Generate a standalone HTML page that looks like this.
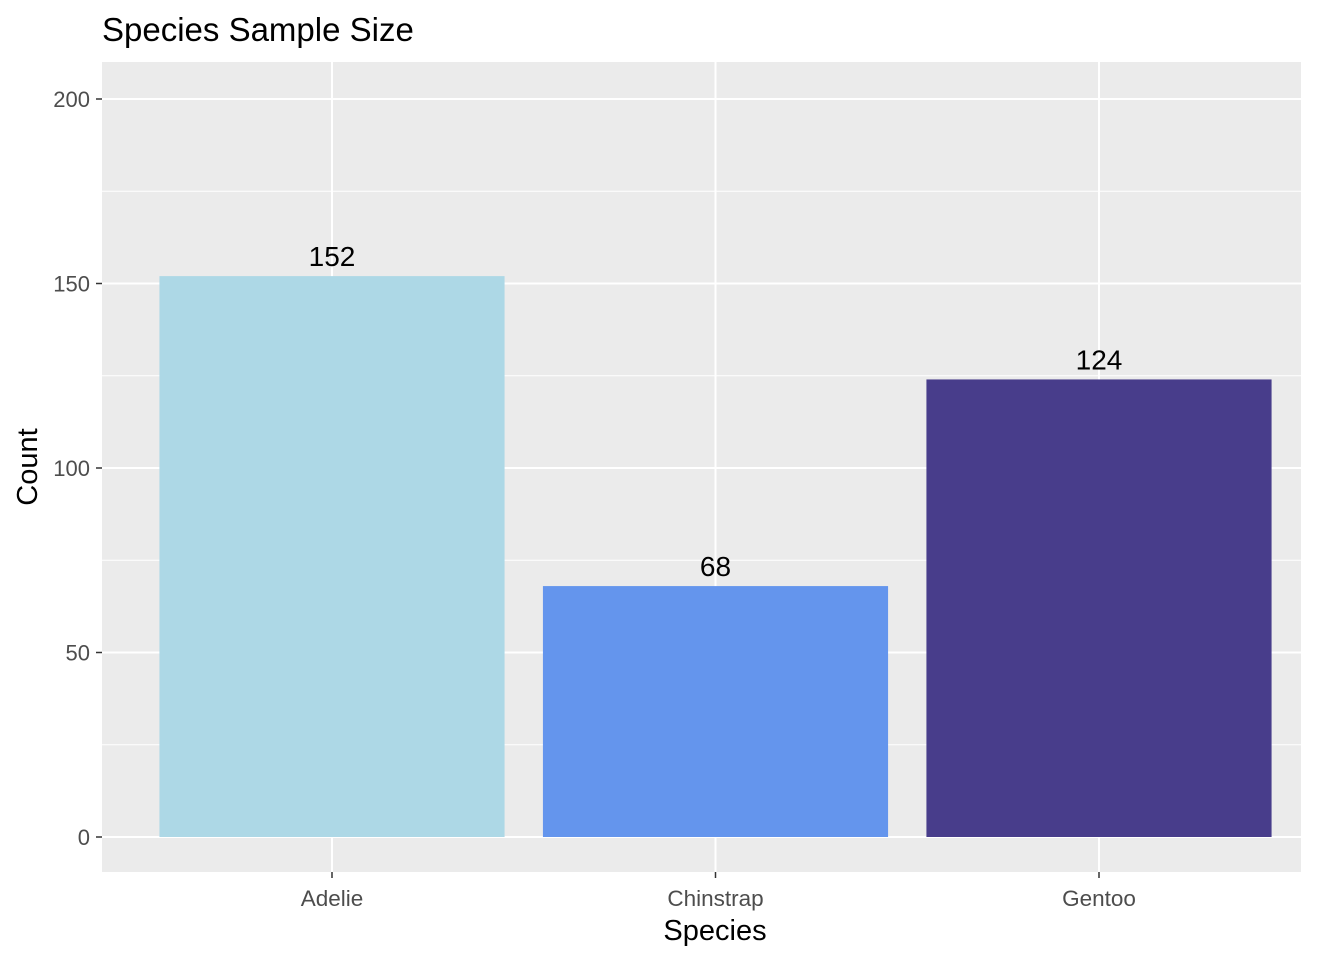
<!DOCTYPE html>
<html><head><meta charset="utf-8"><style>
body{margin:0;background:#fff;font-family:"Liberation Sans",Arial,sans-serif}
</style></head><body>
<svg width="1344" height="960" xmlns="http://www.w3.org/2000/svg">
<g id="chart"></g>
</svg>
<script>
const categories=["Adelie","Chinstrap","Gentoo"];
const counts=[152,68,124];
const colors=["#ADD8E6","#6495ED","#483D8B"];
const yTicks=[0,50,100,150,200];
const yMinor=[25,75,125,175];
const NS="http://www.w3.org/2000/svg";
const g=document.getElementById('chart');
const px0=102,px1=1301,py0=62,py1=872;
const y=v=>837-v*3.69;
const step=383.5;
const x=i=>332+step*i;
function el(t,a,p){const e=document.createElementNS(NS,t);for(const k in a)e.setAttribute(k,a[k]);(p||g).appendChild(e);return e;}
const bg=el('rect',{x:px0,y:py0,width:px1-px0,height:py1-py0,fill:'#EBEBEB'});


yMinor.forEach(v=>{const l=el('line',{x1:px0,x2:px1,y1:y(v),y2:y(v),stroke:'#fff','stroke-width':1});

});
yTicks.forEach(v=>{const l=el('line',{x1:px0,x2:px1,y1:y(v),y2:y(v),stroke:'#fff','stroke-width':2});


const tk=el('line',{x1:px0-6,x2:px0,y1:y(v),y2:y(v),stroke:'#333','stroke-width':1.5});


const t=el('text',{x:px0-12,y:y(v)+8,'text-anchor':'end','font-size':22,fill:'#4D4D4D'});t.textContent=v;

});
categories.forEach((c,i)=>{const l=el('line',{x1:x(i),x2:x(i),y1:py0,y2:py1,stroke:'#fff','stroke-width':2});

});
categories.forEach((c,i)=>{const w=step*0.9;
const r=el('rect',{x:x(i)-w/2,y:y(counts[i]),width:w,height:y(0)-y(counts[i]),fill:colors[i]});


const v=el('text',{x:x(i),y:y(counts[i])-10,'text-anchor':'middle','font-size':28,fill:'#000'});v.textContent=counts[i];


const tk=el('line',{x1:x(i),x2:x(i),y1:py1,y2:py1+6,stroke:'#333','stroke-width':1.5});


const t=el('text',{x:x(i),y:906,'text-anchor':'middle','font-size':22.5,fill:'#4D4D4D'});t.textContent=c;

});
const tt=el('text',{x:102,y:41,'font-size':33,fill:'#000'});tt.textContent='Species Sample Size';


const xt=el('text',{x:715,y:940,'text-anchor':'middle','font-size':29,fill:'#000'});xt.textContent='Species';


const yt=el('text',{x:0,y:0,'text-anchor':'middle','font-size':29,fill:'#000',transform:'translate(37,467) rotate(-90)'});yt.textContent='Count';


</script>
</body></html>
